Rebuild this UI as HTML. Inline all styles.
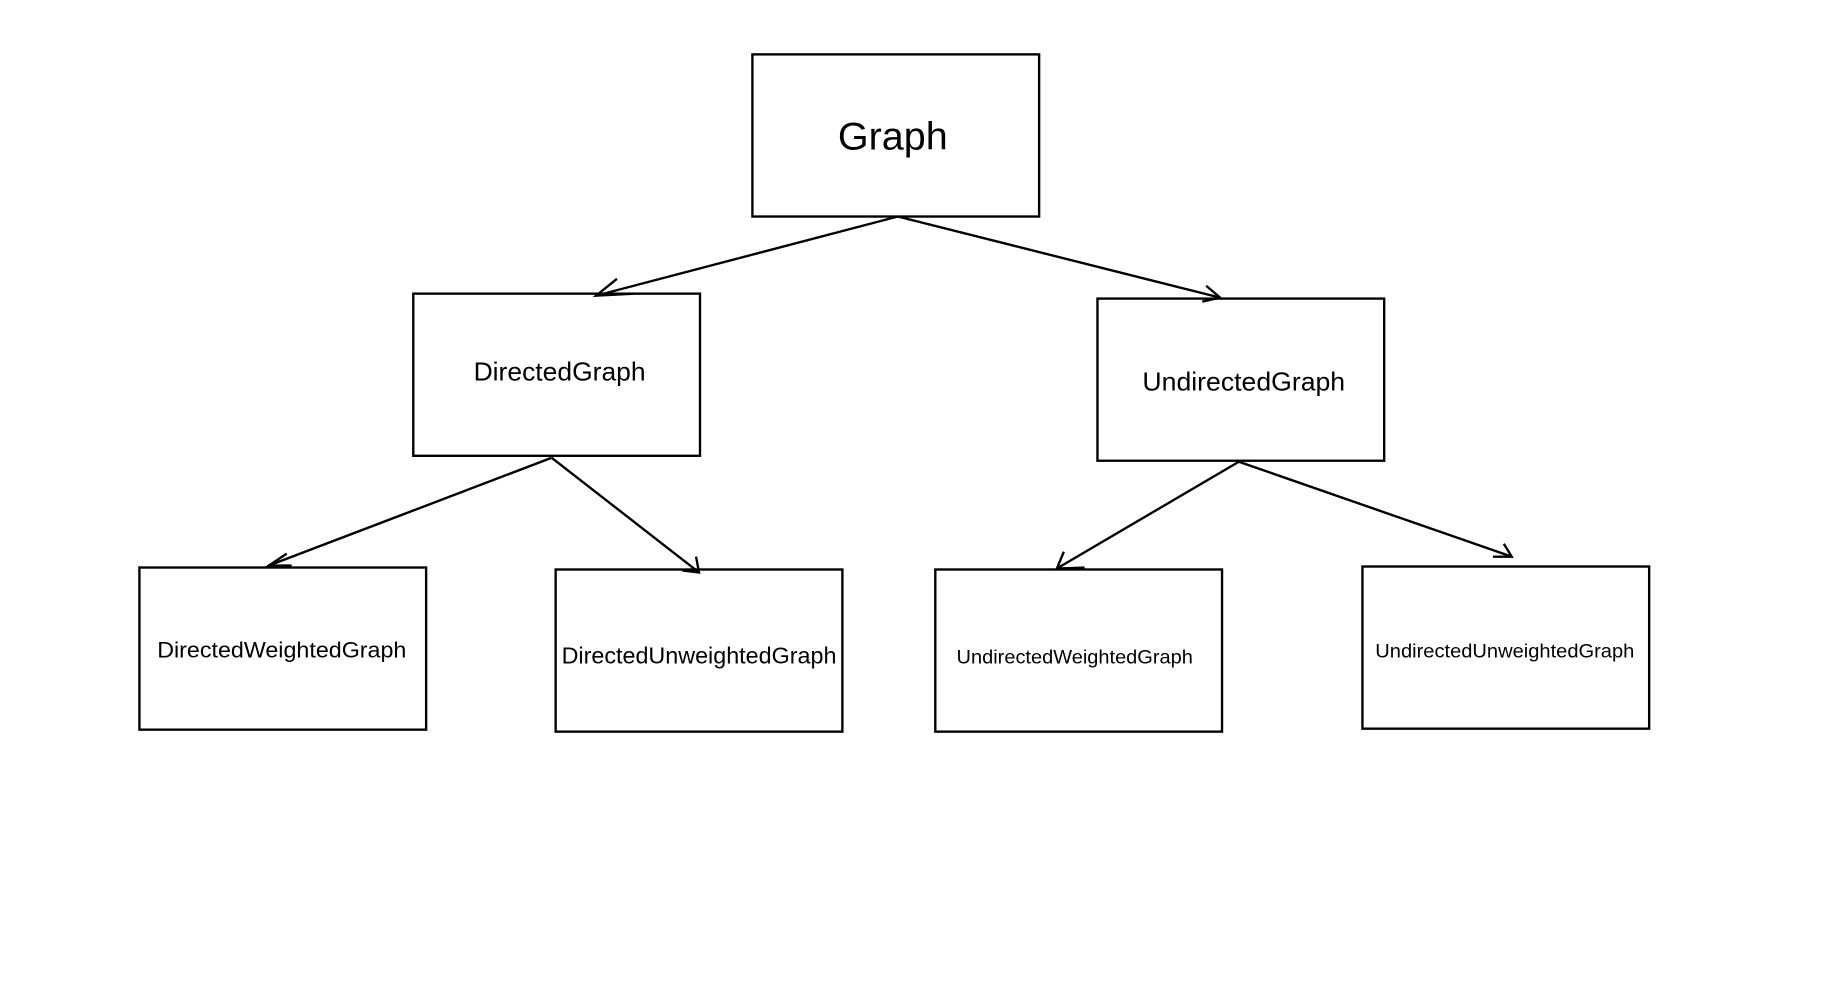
<!DOCTYPE html>
<html><head><style>html,body{margin:0;padding:0;background:#fff;}</style></head>
<body>
<svg width="1827" height="999" viewBox="0 0 1827 999" xmlns="http://www.w3.org/2000/svg" font-family="Liberation Sans, sans-serif">
<g transform="scale(0.9887)">
<g fill="none" stroke="#000" stroke-width="2.4">
<rect x="761" y="55" width="290" height="164"/>
<rect x="418" y="297" width="290" height="164"/>
<rect x="1110" y="302" width="290" height="164"/>
<rect x="141" y="574" width="290" height="164"/>
<rect x="562" y="576" width="290" height="164"/>
<rect x="946" y="576" width="290" height="164"/>
<rect x="1378" y="573" width="290" height="164"/>
<line x1="908" y1="219" x2="603" y2="299"/>
<polyline points="624,282 603,299 641,297"/>
<line x1="908" y1="219" x2="1234" y2="301"/>
<polyline points="1220,289 1234,301 1216,305"/>
<line x1="558" y1="463" x2="272" y2="572"/>
<polyline points="290,560 272,572 295,572"/>
<line x1="558" y1="463" x2="707" y2="579"/>
<polyline points="690,577 707,579 704,563"/>
<line x1="1253" y1="467" x2="1069" y2="575"/>
<polyline points="1076,558 1069,575 1097,574"/>
<line x1="1253" y1="467" x2="1529" y2="563"/>
<polyline points="1510,563 1529,563 1521,550"/>
</g>
<g fill="#000" text-anchor="middle">
<text x="903" y="151" font-size="39" textLength="111" lengthAdjust="spacingAndGlyphs">Graph</text>
<text x="566" y="385" font-size="26" textLength="174" lengthAdjust="spacingAndGlyphs">DirectedGraph</text>
<text x="1258" y="395" font-size="26" textLength="205" lengthAdjust="spacingAndGlyphs">UndirectedGraph</text>
<text x="285" y="665" font-size="22" textLength="252" lengthAdjust="spacingAndGlyphs">DirectedWeightedGraph</text>
<text x="707" y="671" font-size="23" textLength="278" lengthAdjust="spacingAndGlyphs">DirectedUnweightedGraph</text>
<text x="1087" y="671" font-size="20" textLength="239" lengthAdjust="spacingAndGlyphs">UndirectedWeightedGraph</text>
<text x="1522" y="665" font-size="20" textLength="262" lengthAdjust="spacingAndGlyphs">UndirectedUnweightedGraph</text>
</g>
</g>
</svg>
</body></html>
